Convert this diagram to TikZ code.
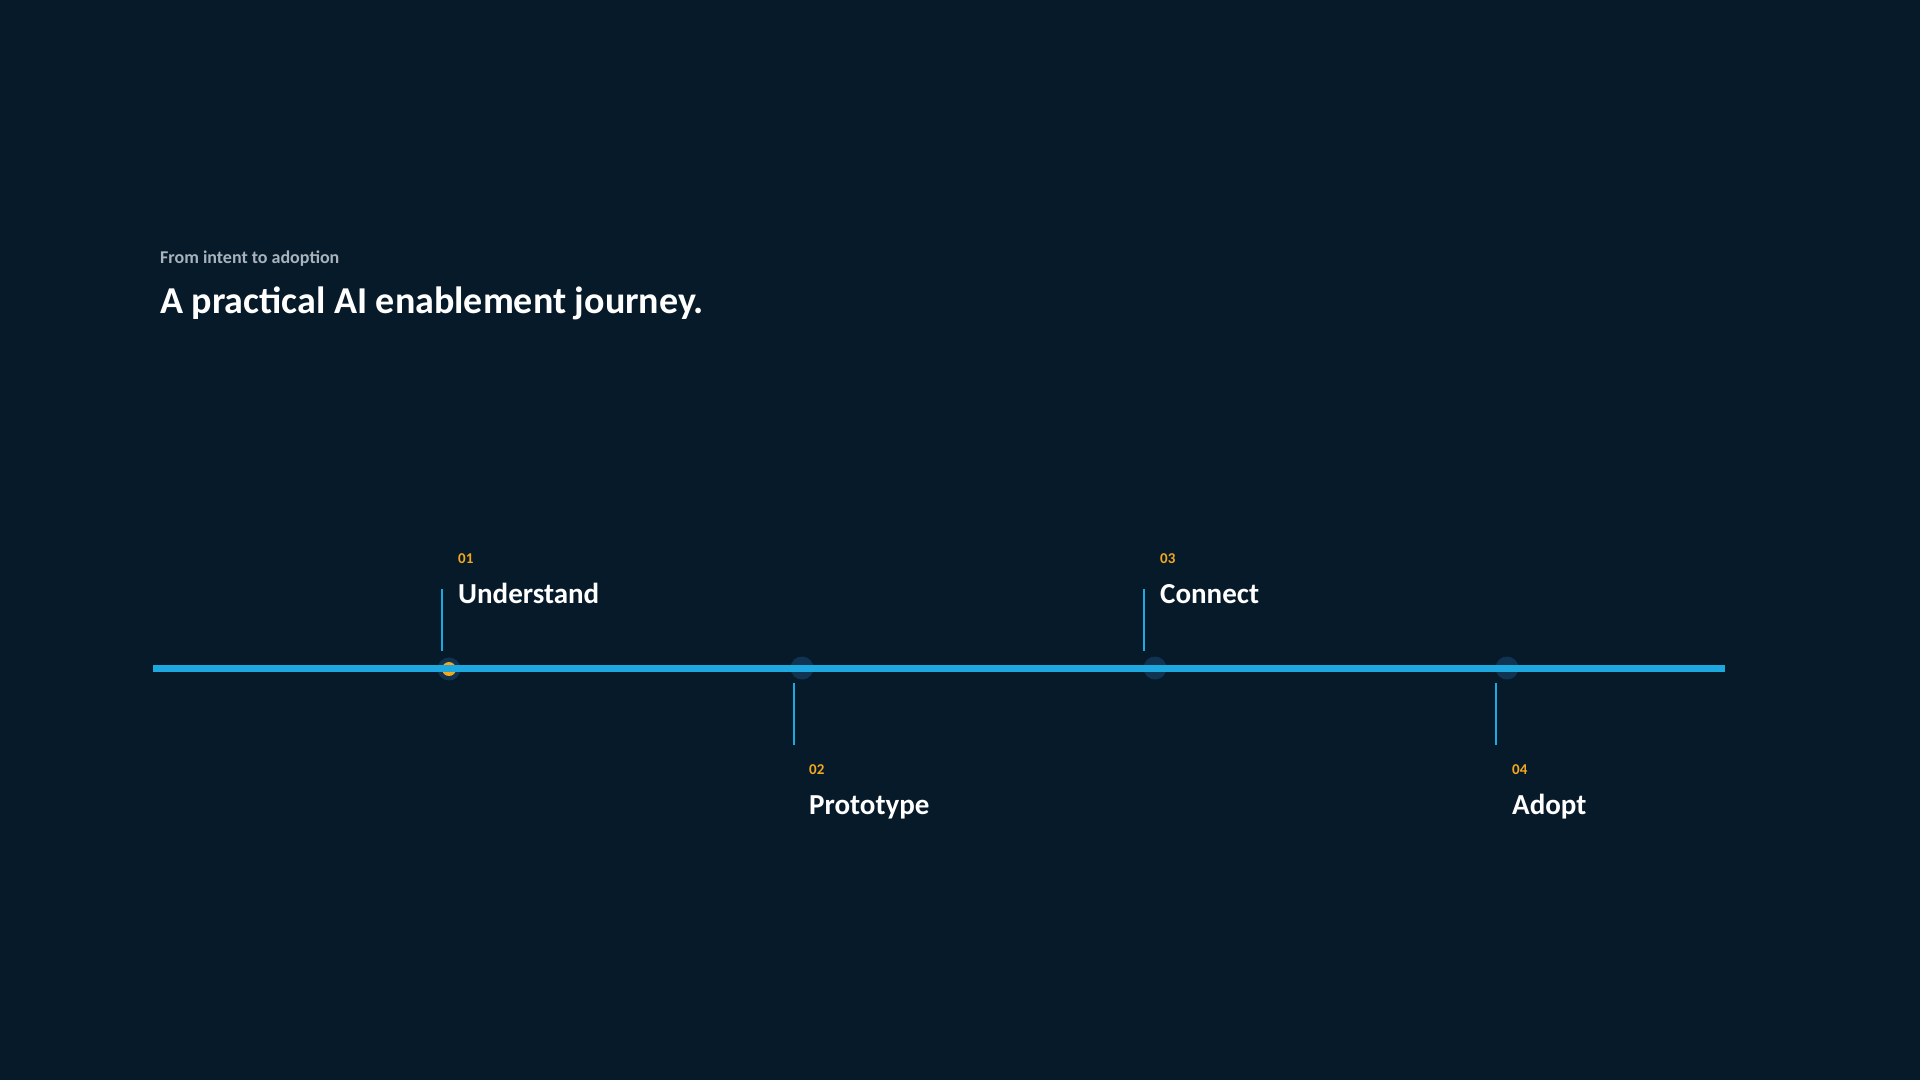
\documentclass[tikz,border=0pt]{standalone}
\usepackage{fontspec}
\setmainfont{Carlito}
\definecolor{bg}{HTML}{071A2A}
\definecolor{accent}{HTML}{1EA8E0}
\definecolor{gold}{HTML}{F2A91E}
\definecolor{dotdark}{HTML}{0F3350}
\definecolor{sub}{HTML}{A9B3BC}
\begin{document}
\begin{tikzpicture}[x=1pt,y=-1pt,
  num/.style={anchor=base west,inner sep=0,text=gold,font=\fontsize{15}{15}\selectfont\bfseries},
  lab/.style={anchor=base west,inner sep=0,text=white,font=\fontsize{29}{29}\selectfont\bfseries},
  tick/.style={accent,line width=2pt},
  dot/.style={circle,fill=dotdark,minimum size=23pt,inner sep=0}]
\fill[bg] (0,0) rectangle (1920,1080);
\useasboundingbox (0,0) rectangle (1920,1080);
\node[anchor=base west,inner sep=0,text=sub,font=\fontsize{18}{18}\selectfont\bfseries] (kicker) at (160,263) {From intent to adoption};
\node[anchor=base west,inner sep=0,text=white,font=\fontsize{38}{38}\selectfont\bfseries] (title) at (160,313) {A practical AI enablement journey.};
% dots
\node[dot] (d1) at (449,669) {};
\node[dot] (d2) at (802,668) {};
\node[dot] (d3) at (1155,668) {};
\node[dot] (d4) at (1507,668) {};
\node[circle,fill=gold,minimum size=14pt,inner sep=0] (d1in) at (449,669) {};
\coordinate (ls) at (153,668);
\coordinate (le) at (1725,668);
\draw[accent,line width=7pt] (ls) -- (le);
% ticks
\coordinate (t1a) at (442,589); \coordinate (t1b) at (442,651);
\coordinate (t2a) at (794,683); \coordinate (t2b) at (794,745);
\coordinate (t3a) at (1144,589); \coordinate (t3b) at (1144,651);
\coordinate (t4a) at (1496,683); \coordinate (t4b) at (1496,745);
\draw[tick] (t1a) -- (t1b);
\draw[tick] (t2a) -- (t2b);
\draw[tick] (t3a) -- (t3b);
\draw[tick] (t4a) -- (t4b);
% labels
\node[num] (n1) at (458,563) {01};
\node[lab] (l1) at (458,603) {Understand};
\node[num] (n2) at (809,774) {02};
\node[lab] (l2) at (809,814) {Prototype};
\node[num] (n3) at (1160,563) {03};
\node[lab] (l3) at (1160,603) {Connect};
\node[num] (n4) at (1512,774) {04};
\node[lab] (l4) at (1512,814) {Adopt};
\end{tikzpicture}
\end{document}
